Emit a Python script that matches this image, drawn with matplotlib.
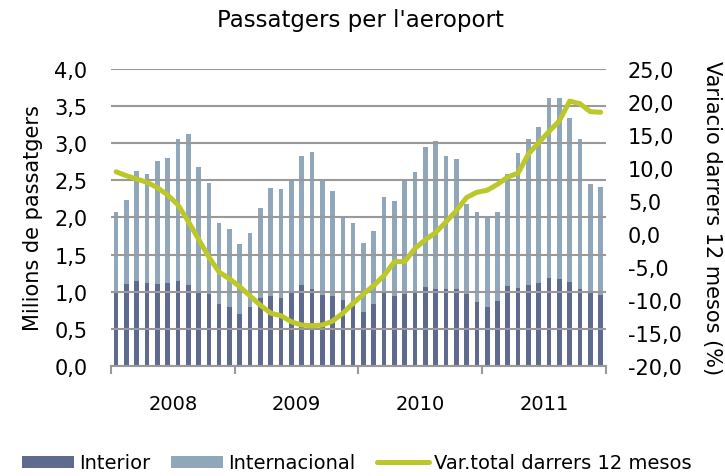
import matplotlib
matplotlib.use("Agg")
import matplotlib.pyplot as plt
import numpy as np

# Monthly passengers (millions), Jan 2008 - Dec 2011
years = ["2008", "2009", "2010", "2011"]
interior = [1.00, 1.10, 1.15, 1.11, 1.10, 1.11, 1.15, 1.09, 0.98, 0.97, 0.84, 0.79,
            0.70, 0.80, 0.92, 0.94, 0.91, 0.99, 1.09, 1.03, 0.96, 0.94, 0.89, 0.83,
            0.73, 0.84, 0.99, 0.94, 0.97, 0.98, 1.06, 1.03, 1.03, 1.04, 0.97, 0.86,
            0.80, 0.87, 1.07, 1.05, 1.09, 1.11, 1.19, 1.17, 1.13, 1.04, 0.98, 0.95]
total = [2.07, 2.24, 2.62, 2.58, 2.76, 2.80, 3.05, 3.12, 2.68, 2.46, 1.93, 1.84,
         1.64, 1.79, 2.13, 2.39, 2.38, 2.49, 2.82, 2.88, 2.49, 2.36, 2.01, 1.92,
         1.66, 1.81, 2.28, 2.22, 2.49, 2.61, 2.95, 3.03, 2.82, 2.79, 2.18, 2.07,
         1.99, 2.07, 2.58, 2.86, 3.06, 3.22, 3.60, 3.61, 3.33, 3.05, 2.45, 2.41]
var12 = [9.4, 8.8, 8.3, 7.8, 7.0, 5.9, 4.4, 1.9, -0.8, -3.5, -5.8, -6.8,
         -8.0, -9.4, -10.8, -12.0, -12.4, -13.3, -13.8, -13.9, -13.8, -13.2, -12.0, -10.5,
         -9.1, -7.8, -6.3, -4.2, -4.2, -2.2, -0.9, 0.2, 1.8, 3.5, 5.5, 6.3,
         6.6, 7.5, 8.6, 9.2, 12.1, 13.8, 15.5, 17.1, 20.1, 19.7, 18.5, 18.4]

internacional = [t - i for t, i in zip(total, interior)]
x = np.arange(len(interior))

c_int = "#5f6a8f"
c_ext = "#8fa6bb"
c_line = "#bcc82a"
c_grid = "#999999"

fig = plt.figure(figsize=(7.25, 4.77), dpi=100)
ax = fig.add_axes([0.153, 0.2306, 0.6825, 0.6233])

b1 = ax.bar(x, interior, width=0.45, color=c_int, zorder=1, label="Interior")
b2 = ax.bar(x, internacional, bottom=interior, width=0.45, color=c_ext, zorder=1,
            label="Internacional")

ax.set_ylim(0, 4)
ax.set_xlim(-0.5, len(x) - 0.5)
ax.set_yticks(np.arange(0, 4.01, 0.5))
ax.set_yticklabels([f"{v:.1f}".replace(".", ",") for v in np.arange(0, 4.01, 0.5)])
ax.grid(axis="y", color=c_grid, linewidth=1.5, zorder=2)
ax.set_axisbelow(False)

for s in ["top", "left", "right"]:
    ax.spines[s].set_visible(False)
ax.spines["bottom"].set_color(c_grid)
ax.spines["bottom"].set_linewidth(1.5)

# year boundaries as major ticks, labels as minor ticks
ax.set_xticks([-0.5, 11.5, 23.5, 35.5, 47.5])
ax.set_xticklabels([])
ax.set_xticks([5.5, 17.5, 29.5, 41.5], minor=True)
ax.set_xticklabels(years, minor=True, fontsize=14)
ax.tick_params(axis="x", which="major", length=6, width=1.5, color=c_grid)
ax.tick_params(axis="x", which="minor", length=0, pad=20)
ax.tick_params(axis="y", length=0, pad=17, labelsize=15)
ax.set_ylabel("Milions de passatgers", fontsize=15, labelpad=8)

ax2 = ax.twinx()
ln, = ax2.plot(x, var12, color=c_line, linewidth=3.6, solid_joinstyle="round",
               solid_capstyle="round", label="Var.total darrers 12 mesos", zorder=3)
ax2.set_ylim(-20, 25)
rt = np.arange(-20, 25.1, 5)
ax2.set_yticks(rt)
ax2.set_yticklabels([f"{v:.1f}".replace(".", ",") for v in rt])
ax2.tick_params(axis="y", length=0, pad=16, labelsize=15)
for s in ax2.spines.values():
    s.set_visible(False)
ax2.set_ylabel("Variacio darrers 12 mesos (%)", fontsize=15, rotation=270, labelpad=29)

fig.text(0.497, 1 - 20 / 477, "Passatgers per l'aeroport", fontsize=16.5,
         ha="center", va="center")

fig.legend([b1, b2, ln], ["Interior", "Internacional", "Var.total darrers 12 mesos"],
           loc="center", bbox_to_anchor=(0.492, 1 - 464 / 477), ncol=3, frameon=False,
           fontsize=14, handlelength=2.68, handleheight=0.57, handletextpad=0.26,
           columnspacing=1.08, borderpad=0.1)

fig.savefig("out.png", dpi=100)
